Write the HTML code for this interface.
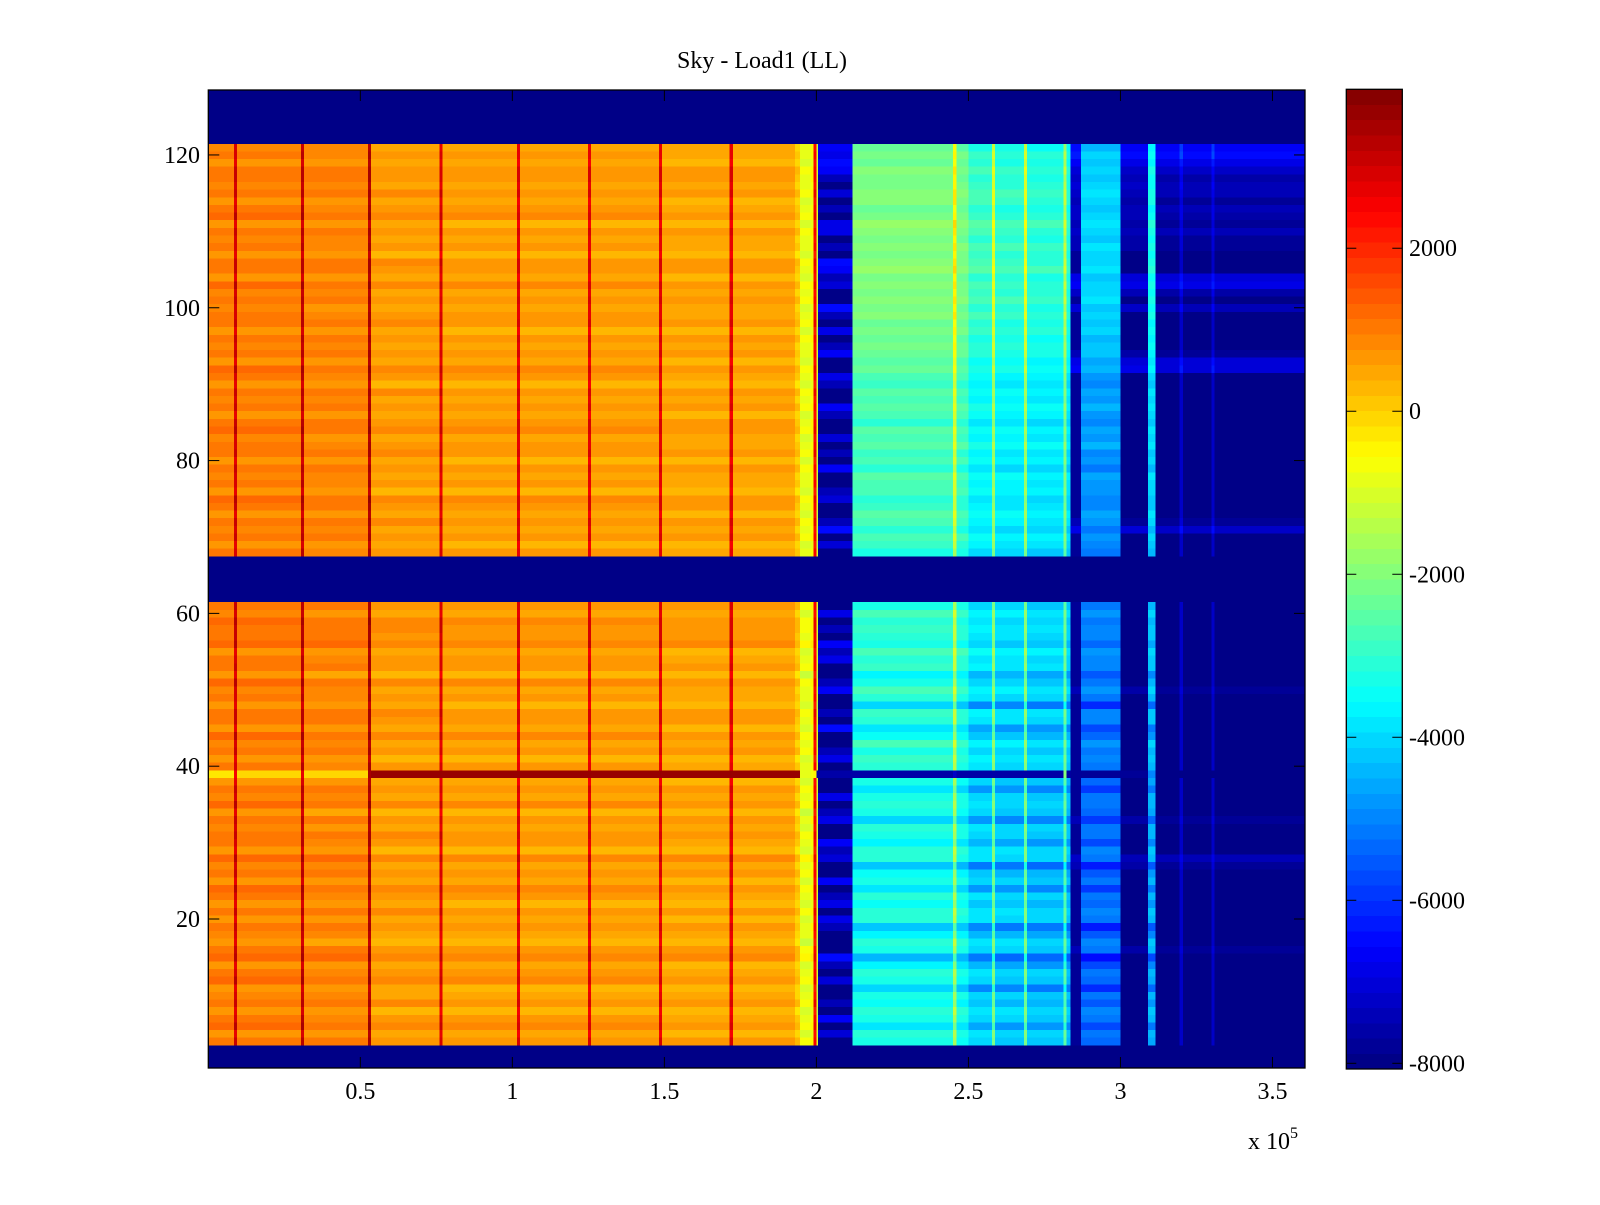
<!DOCTYPE html>
<html><head><meta charset="utf-8"><title>Sky - Load1 (LL)</title>
<style>
html,body{margin:0;padding:0;background:#fff;}
svg text{font-family:"Liberation Serif","DejaVu Serif",serif;fill:#000;}
</style></head>
<body>
<svg id="chart" xmlns="http://www.w3.org/2000/svg" width="1600" height="1200" viewBox="0 0 1600 1200">
<rect x="0" y="0" width="1600" height="1200" fill="#fff"/>
<text x="762" y="68" font-size="24" text-anchor="middle">Sky - Load1 (LL)</text>
<g id="cells" shape-rendering="crispEdges"></g>
<g id="cbar" shape-rendering="crispEdges"></g>
<g id="axes"></g>
</svg>
<script>
// ---- data ----
const xTicks = [0.5, 1, 1.5, 2, 2.5, 3, 3.5];
const xTickLabels = ["0.5", "1", "1.5", "2", "2.5", "3", "3.5"];
const yTicks = [20, 40, 60, 80, 100, 120];
const yTickLabels = ["20", "40", "60", "80", "100", "120"];
const cTicks = [-8000, -6000, -4000, -2000, 0, 2000];
const cTickLabels = ["-8000", "-6000", "-4000", "-2000", "0", "2000"];
const maskedRows = [1,2,3,62,63,64,65,66,67,122,123,124,125,126,127,128];
// column segments (x in units of 1e5)
const segStart = [0, 0.085, 0.095, 0.305, 0.315, 0.525, 0.535, 0.76, 0.77, 1.015, 1.025, 1.248, 1.258, 1.482, 1.492, 1.715, 1.725, 1.93, 1.946, 1.98, 1.99, 2.0, 2.005, 2.118, 2.45, 2.46, 2.5, 2.578, 2.588, 2.683, 2.693, 2.812, 2.822, 2.835, 2.87, 3.0, 3.09, 3.115, 3.195, 3.205, 3.3, 3.31];
const segBase  = [850, 2900, 850, 3100, 800, 3300, 550, 2800, 500, 2700, 500, 2700, 500, 2700, 450, 2700, 450, 0, -900, -700, 2400, -1200, -7500, -2900, -1200, -3000, -3700, -1800, -3800, -1800, -3900, -2200, -4000, -7700, -4900, -7900, -4200, -8000, -7300, -8000, -7300, -8000];
const segZone  = ["w","w","w","w","w","w","w","w","w","w","w","w","w","w","w","w","w","w","w","w","w","w","d","c","c","c","c","c","c","c","c","c","c","r","c","r","c","r","r","r","r","r"];
const row39Base = [-200, 2600, -100, 2800, 0, 3400, 3700, 3700, 3700, 3700, 3700, 3700, 3700, 3700, 3700, 3700, 3700, 3700, -800, -600, -500, -7600, -7600, -7600, -7300, -7600, -7600, -7600, -7600, -7600, -7600, -2000, -7600, -7800, -7800, -7800, -5000, -7900, -7900, -7900, -7900, -7900];
const shiftW = [0,0,0, 200,-100,300,100,-200,250,0,-150,300,100,-100,350,200,-250,0,150,-100,
 250,-150,100,300,-100,200,0,350,-200,100,250,-50,150,-250,300,0,200,-100, 0,
 100,-200,200,0,300,-100,150,250,-150,100,0,300,-250,200,100,-100,350,150,250,300,-50,200,
 0,0,0,0,0,0,
 100,-150,200,0,250,-100,150,300,-200,100,0,200,-150,250,100,-50,300,150,-100,200,0,250,-200,100,300,-100,150,0,200,-150,250,100,-50,200,0,300,-100,150,250,-200,100,0,200,-150,300,100,-100,250,0,150,200,-100,100,0,
 0,0,0,0,0,0,0];
const shiftC = [0,0,0, -400,-200,-900,-300,-100,-600,-300,-1200,-400,-200,-800,-1500,-300,-100,-700,-1300,-200,
 -100,-500,-200,-1000,-300,-600,-1400,-200,-100,-800,-300,-200,-1100,-400,-200,-300,-1000,-400, 0,
 -200,0,-300,100,-500,-900,-100,0,-1200,-200,100,-300,-700,0,-100,200,-400,-100,0,-200,100,-300,
 0,0,0,0,0,0,
 -300,0,200,-200,100,300,0,-100,200,100,300,-200,200,0,400,100,300,-100,200,400,100,300,0,200,500,300,600,700,500,800,600,900,700,1000,800,900,700,1100,900,800,1000,700,900,1100,800,600,900,1000,800,700,900,600,800,500,
 0,0,0,0,0,0,0];
const shiftD = [0,0,0, -500,400,-500,900,-400,0,-500,-500,400,-500,0,1100,-500,-500,-500,0,700,
 -500,600,0,-500,900,-500,-500,400,0,900,-500,-400,600,0,-500,700,-500,-500, 0,
 -500,700,0,-500,-500,1000,-500,0,-500,-500,900,0,-500,-500,600,0,900,-500,0,-500,700,-500,
 0,0,0,0,0,0,
 -500,400,-500,1000,0,-500,-500,500,0,-500,-500,900,-500,0,-500,400,-500,-500,0,900,-500,-500,0,700,-500,-500,900,0,-500,700,-500,0,1000,-500,-500,500,0,900,1100,-500,0,-500,700,600,-500,0,-500,500,-500,0,900,1100,700,900,
 0,0,0,0,0,0,0];
const shiftR = [0,0,0, 0,0,0,0,0,0,0,0,0,0,0,0,300,0,0,0,0,
 0,0,0,0,0,0,300,500,0,0,0,0,300,0,0,0,0,0, 0,
 0,0,0,0,0,0,0,0,0,0,300,0,0,0,0,0,0,0,0,0,0,0,
 0,0,0,0,0,0,
 0,0,0,800,200,0,0,0,0,0,0,0,0,0,0,0,0,0,0,0,0,0,0,0,1000,900,300,0,0,0,0,0,600,0,400,1100,900,0,0,0,300,300,500,300,400,500,300,500,600,400,700,1100,1500,1300,
 0,0,0,0,0,0,0];
const xMin = 0, xMax = 3.607, yMin = 0.5, yMax = 128.5, cMin = -8070, cMax = 3950;
const specialRow = 39;

// ---- layout ----
const PL = 208.3, PR = 1305, PT = 90, PB = 1068;
const CBL = 1346.3, CBR = 1402.3, CBT = 89.3, CBB = 1069;
const xS = v => PL + (v - xMin) / (xMax - xMin) * (PR - PL);
const yS = v => PB - (v - yMin) / (yMax - yMin) * (PB - PT);
const cS = v => CBB - (v - cMin) / (cMax - cMin) * (CBB - CBT);
const NS = "http://www.w3.org/2000/svg";
function jet(v){
  let t = (v - cMin) / (cMax - cMin); t = Math.max(0, Math.min(1, t));
  let k = Math.min(63, Math.floor(t * 64)); t = (k + 0.5) / 64;
  const cl = a => Math.max(0, Math.min(1, a));
  const r = cl(1.5 - Math.abs(4*t - 3)), g = cl(1.5 - Math.abs(4*t - 2)), b = cl(1.5 - Math.abs(4*t - 1));
  return "rgb(" + Math.round(r*255) + "," + Math.round(g*255) + "," + Math.round(b*255) + ")";
}
const shifts = {w: shiftW, c: shiftC, d: shiftD, r: shiftR};
const cells = document.getElementById("cells");
for (let row = 1; row <= 128; row++) {
  const masked = maskedRows.indexOf(row) >= 0;
  const y0 = yS(row + 0.5), y1 = yS(row - 0.5);
  for (let s = 0; s < segStart.length; s++) {
    const xa = segStart[s], xb = (s + 1 < segStart.length) ? segStart[s+1] : xMax;
    let v;
    if (masked) v = cMin;
    else if (row === specialRow) v = row39Base[s];
    else v = segBase[s] + ((shifts[segZone[s]][row-1]) || 0);
    const r = document.createElementNS(NS, "rect");
    r.setAttribute("x", xS(xa)); r.setAttribute("y", y0);
    r.setAttribute("width", xS(xb) - xS(xa) + 0.3); r.setAttribute("height", y1 - y0 + 0.3);
    r.setAttribute("fill", jet(v));
    
    
    cells.appendChild(r);
  }
}
// colorbar
const cbar = document.getElementById("cbar");
for (let k = 0; k < 64; k++) {
  const va = cMin + k * (cMax - cMin) / 64, vb = cMin + (k + 1) * (cMax - cMin) / 64;
  const r = document.createElementNS(NS, "rect");
  r.setAttribute("x", CBL); r.setAttribute("y", cS(vb));
  r.setAttribute("width", CBR - CBL); r.setAttribute("height", cS(va) - cS(vb) + 0.3);
  r.setAttribute("fill", jet((va + vb) / 2));
  
  
  cbar.appendChild(r);
}
const axes = document.getElementById("axes");
function add(tag, attrs, name, text){
  const e = document.createElementNS(NS, tag);
  for (const k in attrs) e.setAttribute(k, attrs[k]);
  
  
  if (text !== undefined) e.textContent = text;
  axes.appendChild(e); return e;
}
add("rect", {x: PL, y: PT, width: PR - PL, height: PB - PT, fill: "none", stroke: "#000", "stroke-width": 1.3}, "plot-frame");
add("rect", {x: CBL, y: CBT, width: CBR - CBL, height: CBB - CBT, fill: "none", stroke: "#000", "stroke-width": 1.3}, "colorbar-frame");
xTicks.forEach((t, i) => {
  const x = xS(t);
  add("line", {x1: x, y1: PB, x2: x, y2: PB - 11, stroke: "#000", "stroke-width": 1}, "x-tick");
  add("line", {x1: x, y1: PT, x2: x, y2: PT + 11, stroke: "#000", "stroke-width": 1}, "x-tick-top");
  add("text", {x: x, y: 1099, "font-size": 24, "text-anchor": "middle"}, "x-tick-label", xTickLabels[i]);
});
yTicks.forEach((t, i) => {
  const y = yS(t);
  add("line", {x1: PL, y1: y, x2: PL + 11, y2: y, stroke: "#000", "stroke-width": 1}, "y-tick");
  add("line", {x1: PR, y1: y, x2: PR - 11, y2: y, stroke: "#000", "stroke-width": 1}, "y-tick-right");
  add("text", {x: 200, y: y + 8, "font-size": 24, "text-anchor": "end"}, "y-tick-label", yTickLabels[i]);
});
cTicks.forEach((t, i) => {
  const y = cS(t);
  add("line", {x1: CBL, y1: y, x2: CBL + 10, y2: y, stroke: "#000", "stroke-width": 1}, "colorbar-tick");
  add("line", {x1: CBR, y1: y, x2: CBR - 10, y2: y, stroke: "#000", "stroke-width": 1}, "colorbar-tick-right");
  add("text", {x: 1409, y: y + 8, "font-size": 24, "text-anchor": "start"}, "colorbar-tick-label", cTickLabels[i]);
});
const ex = add("text", {x: 1248, y: 1149, "font-size": 24}, "x-axis-exponent", "x 10");
const sup = document.createElementNS(NS, "tspan");
sup.setAttribute("dy", "-11"); sup.setAttribute("font-size", "16"); sup.textContent = "5";


ex.appendChild(sup);
</script>
</body></html>
